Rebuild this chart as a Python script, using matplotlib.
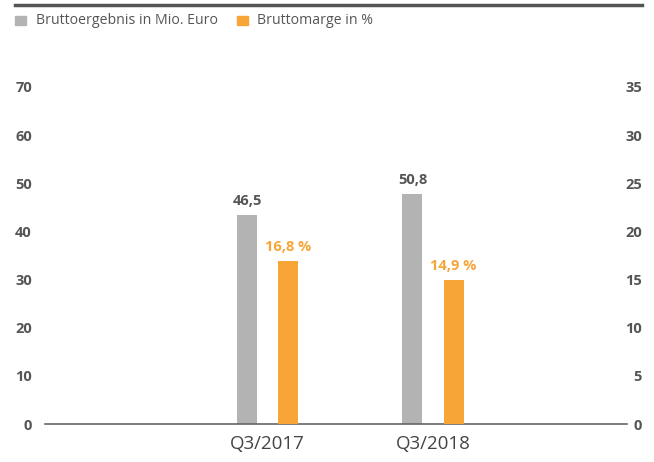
import matplotlib.pyplot as plt
from matplotlib.patches import Rectangle
from matplotlib.lines import Line2D

plt.rcParams['font.family'] = ['Open Sans', 'DejaVu Sans']

categories = ["Q3/2017", "Q3/2018"]
brutto_ergebnis = [43.5, 47.8]          # bar heights as drawn
brutto_ergebnis_labels = ["46,5", "50,8"]
brutto_marge = [16.9, 15.0]
brutto_marge_labels = ["16,8 %", "14,9 %"]

grey = "#B2B3B2"
orange = "#F7A537"
txt = "#555555"

fig = plt.figure(figsize=(6.54, 4.62), dpi=100)
ax = fig.add_axes([45 / 654, 38 / 462, 582 / 654, 337 / 462])
ax2 = ax.twinx()

x = list(range(len(categories)))
w = 0.121
off = 0.124
ax.bar([i - off for i in x], brutto_ergebnis, width=w, color=grey, zorder=2)
ax2.bar([i + off for i in x], brutto_marge, width=w, color=orange, zorder=2)

for i, (v, lab) in enumerate(zip(brutto_ergebnis, brutto_ergebnis_labels)):
    ax.annotate(lab, (i - off, v), xytext=(0, 5), textcoords="offset points",
                ha="center", va="bottom", fontsize=10.5, fontweight="bold", color=txt)
for i, (v, lab) in enumerate(zip(brutto_marge, brutto_marge_labels)):
    ax2.annotate(lab, (i + off, v), xytext=(0, 5), textcoords="offset points",
                 ha="center", va="bottom", fontsize=10.5, fontweight="bold", color=orange)

ax.set_xlim(-1.344, 2.172)
ax.set_ylim(0, 70)
ax2.set_ylim(0, 35)
ax.set_yticks(range(0, 71, 10))
ax2.set_yticks(range(0, 36, 5))
ax.set_xticks(x)
ax.set_xticklabels(categories, fontsize=13.5, color="#444444")

for a in (ax, ax2):
    for s in a.spines.values():
        s.set_visible(False)
    a.tick_params(axis="y", length=0, labelsize=10.5, labelcolor=txt)
    for t in a.get_yticklabels():
        t.set_fontweight("bold")
ax.tick_params(axis="y", pad=9.4)
ax2.tick_params(axis="y", pad=10.8)
for t in ax2.get_yticklabels():
    t.set_horizontalalignment("right")
ax.tick_params(axis="x", length=0, pad=8)
ax.spines["bottom"].set_visible(True)
ax.spines["bottom"].set_color("#666666")
ax.spines["bottom"].set_linewidth(1.2)

# top rule and legend
fig.add_artist(Line2D([15 / 654, 642 / 654], [1 - 5 / 462, 1 - 5 / 462],
                      color="#555555", linewidth=2.5))
fig.add_artist(Rectangle((15 / 654, 1 - 25 / 462), 11 / 654, 9 / 462, color=grey))
fig.text(36 / 654, 1 - 21 / 462, "Bruttoergebnis in Mio. Euro", fontsize=10.2,
         color=txt, va="center")
fig.add_artist(Rectangle((237 / 654, 1 - 25 / 462), 11 / 654, 9 / 462, color=orange))
fig.text(257 / 654, 1 - 21 / 462, "Bruttomarge in %", fontsize=10.2,
         color=txt, va="center")

fig.savefig("out.png", dpi=100)
